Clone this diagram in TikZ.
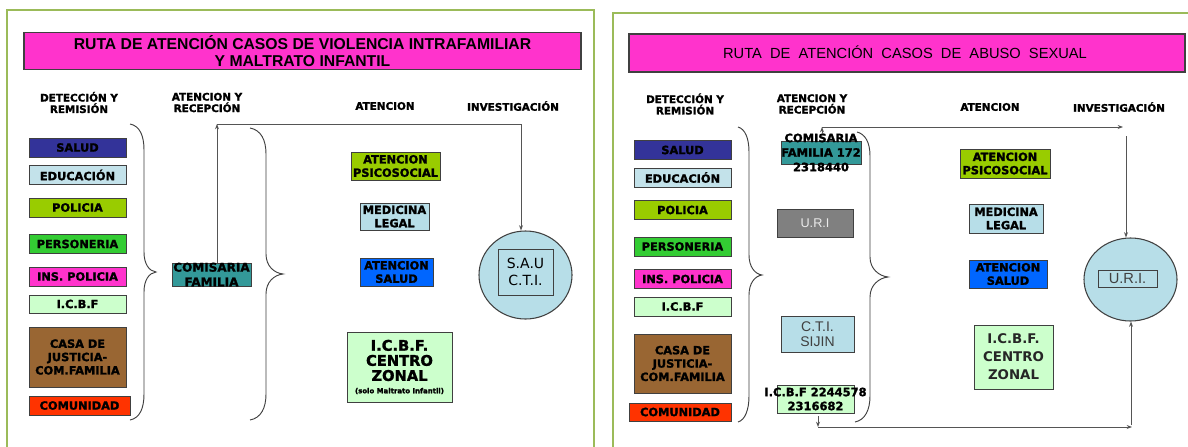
\documentclass[tikz,border=0pt]{standalone}
\usepackage{fontspec}
\setmainfont{DejaVu Sans}
\newfontfamily\libfont{Liberation Sans}
\newfontfamily\heavyfont{DejaVu Sans}[FakeBold=1.6]
\usetikzlibrary{shapes.geometric,arrows.meta,calc}
\definecolor{framegreen}{HTML}{9BBB59}
\definecolor{edgegray}{HTML}{404040}
\definecolor{linegray}{HTML}{555555}
\definecolor{pinkbar}{HTML}{FF33CC}
\definecolor{cSalud}{HTML}{333399}
\definecolor{cEdu}{HTML}{C3E2EA}
\definecolor{cPol}{HTML}{99CC00}
\definecolor{cPers}{HTML}{33CC33}
\definecolor{cIns}{HTML}{FF33CC}
\definecolor{cIcbf}{HTML}{CCFFCC}
\definecolor{cCasa}{HTML}{996633}
\definecolor{cCom}{HTML}{FF3300}
\definecolor{cTeal}{HTML}{339999}
\definecolor{cBlue}{HTML}{0066FF}
\definecolor{cLblue}{HTML}{B7DEE8}
\definecolor{cGray}{HTML}{808080}
\newcommand\bxf{\heavyfont\bfseries\fontsize{8.5}{10}\selectfont}
\newcommand\hdf{\heavyfont\bfseries\fontsize{7.8}{8.6}\selectfont}
\begin{document}
\begin{tikzpicture}[x=0.75pt,y=-0.75pt,
  bx/.style 2 args={draw=edgegray, line width=0.7pt, minimum width=#1*0.75pt,
     minimum height=#2*0.75pt, inner sep=0pt, outer sep=0pt, align=center, font=\bxf},
  lbl/.style={inner sep=0pt, align=center, font=\bxf},
  hdr/.style={inner sep=0pt, align=center, font=\hdf},
  braceline/.style={draw=edgegray, line width=0.7pt},
  conn/.style={draw=linegray, line width=0.7pt, -{Stealth[length=4pt,width=3pt]}},
  frameline/.style={draw=framegreen, line width=1.6pt},
  titlebar/.style={draw=edgegray, fill=pinkbar, line width=0.8pt}]
\useasboundingbox (0,0) rectangle (1188,446);
\fill[white] (0,0) rectangle (1188,446);

% ---------- frames ----------
\draw[frameline] (7,450) -- (7,10) -- (594,10) -- (594,450);
\draw[frameline] (613,450) -- (613,13) -- (1192,13);

% ---------- LEFT PANEL ----------
\node[titlebar, minimum width=557*0.75pt, minimum height=37*0.75pt, inner sep=0pt] (titleL) at (302.5,51) {};
\node[inner sep=0pt, align=center, font=\libfont\bfseries\fontsize{11.8}{12.8}\selectfont] (titleLtxt) at (titleL.center)
  {RUTA DE ATENCIÓN CASOS DE VIOLENCIA INTRAFAMILIAR\\Y MALTRATO INFANTIL};

\node[hdr] (hL1) at (79,102.5) {DETECCIÓN Y\\REMISIÓN};
\node[hdr] (hL2) at (207,102.5) {ATENCION Y\\RECEPCIÓN};
\node[hdr] (hL3) at (385,106) {ATENCION};
\node[hdr] (hL4) at (513,106) {INVESTIGACIÓN};

\node[bx={97}{19}, fill=cSalud] (sL) at (77.5,147.5) {SALUD};
\node[bx={97}{19}, fill=cEdu] (eL) at (77.5,175) {EDUCACIÓN};
\node[bx={97}{19}, fill=cPol] (pL) at (77.5,207.5) {POLICIA};
\node[bx={97}{19}, fill=cPers] (peL) at (77.5,244) {PERSONERIA};
\node[bx={97}{19}, fill=cIns] (iL) at (77.5,276.5) {INS. POLICIA};
\node[bx={97}{18}, fill=cIcbf] (icL) at (77.5,304) {I.C.B.F};
\node[bx={97}{60}, fill=cCasa] (cL) at (77.5,357) {CASA DE\\JUSTICIA-\\COM.FAMILIA};
\node[bx={101}{19}, fill=cCom] (coL) at (79.5,405.5) {COMUNIDAD};

\draw[braceline] (130,124) .. controls (140,126) and (144,136) .. (144,150) -- (144,252)
  .. controls (144,264) and (149,271) .. (156,272) .. controls (149,273) and (144,280) .. (144,292)
  -- (144,394) .. controls (144,408) and (140,418) .. (130,420);

\node[bx={79}{23}, fill=cTeal, label={[lbl, font=\heavyfont\bfseries\fontsize{9}{11}\selectfont]center:COMISARIA\\FAMILIA}] (comL) at (211.5,274.5) {};

\draw[braceline] (250,128) .. controls (261,130) and (266,140) .. (266,154) -- (266,254)
  .. controls (266,266) and (274,273) .. (283,274) .. controls (274,275) and (266,282) .. (266,294)
  -- (266,394) .. controls (266,408) and (261,418) .. (250,420);

\node[bx={89}{28}, fill=cPol] (apL) at (395.5,166) {ATENCION\\PSICOSOCIAL};
\node[bx={69}{27}, fill=cLblue] (mlL) at (394.5,216.5) {MEDICINA\\LEGAL};
\node[bx={73}{28}, fill=cBlue] (asL) at (396.5,272) {ATENCION\\SALUD};
\node[bx={105}{70}, fill=cIcbf, font=\heavyfont\bfseries\fontsize{11}{11.3}\selectfont] (czL) at (399.5,367)
  {I.C.B.F.\\CENTRO\\ZONAL\\[-2pt]{\fontsize{5.2}{6}\selectfont(solo Maltrato Infantil)}};

\node[ellipse, draw=edgegray, line width=0.8pt, fill=cLblue, minimum width=93*0.75pt,
  minimum height=88*0.75pt, inner sep=0pt] (cirL) at (525.5,275) {};
\node[bx={55}{46}, fill=cLblue, font=\fontsize{10.5}{12.5}\selectfont] (sauL) at (525.5,272) {S.A.U\\C.T.I.};

\coordinate (topL) at (217,124);
\coordinate (topR) at (521,124);
\draw[conn] (comL.north -| topL) -- (topL);
\draw[conn] (topL) -- (topR) -- (topR |- cirL.north);

% ---------- RIGHT PANEL ----------
\node[titlebar, minimum width=556*0.75pt, minimum height=38*0.75pt, inner sep=0pt] (titleR) at (907,53) {};
\node[inner sep=0pt, font=\libfont\fontsize{11}{13}\selectfont] (titleRtxt) at (905,52.5)
  {RUTA\ \ DE\ \ ATENCIÓN\ \ CASOS\ \ DE\ \ ABUSO\ \ SEXUAL};

\node[hdr] (hR1) at (685,104) {DETECCIÓN Y\\REMISIÓN};
\node[hdr] (hR2) at (812,104) {ATENCION Y\\RECEPCIÓN};
\node[hdr] (hR3) at (990,107) {ATENCION};
\node[hdr] (hR4) at (1119,107) {INVESTIGACIÓN};

\node[bx={97}{19}, fill=cSalud] (sR) at (682.5,150) {SALUD};
\node[bx={97}{19}, fill=cEdu] (eR) at (682.5,177.5) {EDUCACIÓN};
\node[bx={97}{19}, fill=cPol] (pR) at (682.5,210) {POLICIA};
\node[bx={97}{19}, fill=cPers] (peR) at (682.5,246.5) {PERSONERIA};
\node[bx={97}{19}, fill=cIns] (iR) at (682.5,279) {INS. POLICIA};
\node[bx={97}{19}, fill=cIcbf] (icR) at (682.5,306.5) {I.C.B.F};
\node[bx={97}{59}, fill=cCasa] (cR) at (682.5,363.5) {CASA DE\\JUSTICIA-\\COM.FAMILIA};
\node[bx={102}{18}, fill=cCom] (coR) at (680,412) {COMUNIDAD};

\draw[braceline] (738,127) .. controls (745,129) and (749,138) .. (749,152) -- (749,255)
  .. controls (749,267) and (755,274) .. (762,275) .. controls (755,276) and (749,283) .. (749,295)
  -- (749,396) .. controls (749,410) and (745,420) .. (738,422);

\node[bx={80}{23}, fill=cTeal, label={[lbl, font=\heavyfont\bfseries\fontsize{8.6}{10.9}\selectfont]center:COMISARIA\\FAMILIA 172\\2318440}] (comR) at (821,152.5) {};
\node[bx={76}{28}, fill=cGray, font=\libfont\fontsize{9.5}{10}\selectfont, text=white!92!black] (uriB) at (815,223) {U.R.I};
\node[bx={73}{36}, fill=cLblue, font=\libfont\fontsize{10.5}{11.3}\selectfont, text=edgegray] (ctiR) at (817.5,334) {C.T.I.\\SIJIN};
\node[bx={77}{28}, fill=cIcbf, label={[lbl, font=\heavyfont\bfseries\fontsize{8.6}{10.5}\selectfont]center:I.C.B.F 2244578\\2316682}] (icbR) at (815.5,399) {};

\draw[braceline] (857,132) .. controls (865,134) and (870,142) .. (870,156) -- (870,257)
  .. controls (870,269) and (879,276) .. (888,277) .. controls (879,278) and (870,285) .. (870,297)
  -- (870,396) .. controls (870,410) and (865,420) .. (855,422);

\node[bx={90}{29}, fill=cPol] (apR) at (1005,163.5) {ATENCION\\PSICOSOCIAL};
\node[bx={74}{29}, fill=cLblue] (mlR) at (1006,218.5) {MEDICINA\\LEGAL};
\node[bx={78}{28}, fill=cBlue] (asR) at (1008,274) {ATENCION\\SALUD};
\node[bx={79}{64}, fill=cIcbf, font=\bfseries\fontsize{10}{13.5}\selectfont, text=black!85] (czR) at (1013.5,357) {I.C.B.F.\\CENTRO\\ZONAL};

\node[ellipse, draw=edgegray, line width=0.8pt, fill=cLblue, minimum width=93*0.75pt,
  minimum height=83*0.75pt, inner sep=0pt] (cirR) at (1130.5,279.5) {};
\node[bx={59}{17}, fill=cLblue, font=\libfont\fontsize{11}{12}\selectfont, text=edgegray] (uriR) at (1127.5,278.5) {U.R.I.};

\coordinate (stubT) at (822,134);
\coordinate (tr1) at (822,127);
\coordinate (tr2) at (1123,127);
\coordinate (tr3) at (1126,136);
\draw[conn] (stubT) -- (tr1);
\draw[conn] (tr1) -- (tr2);
\draw[conn] (tr3) -- (tr3 |- cirR.north);

\coordinate (stubB) at (818,416);
\coordinate (bl1) at (818,427);
\coordinate (br1) at (1132,427);
\coordinate (br2) at (1131,425);
\draw[conn] (stubB) -- (bl1);
\draw[conn] (bl1) -- (br1);
\draw[conn] (br2) -- (br2 |- cirR.south);
\end{tikzpicture}
\end{document}
